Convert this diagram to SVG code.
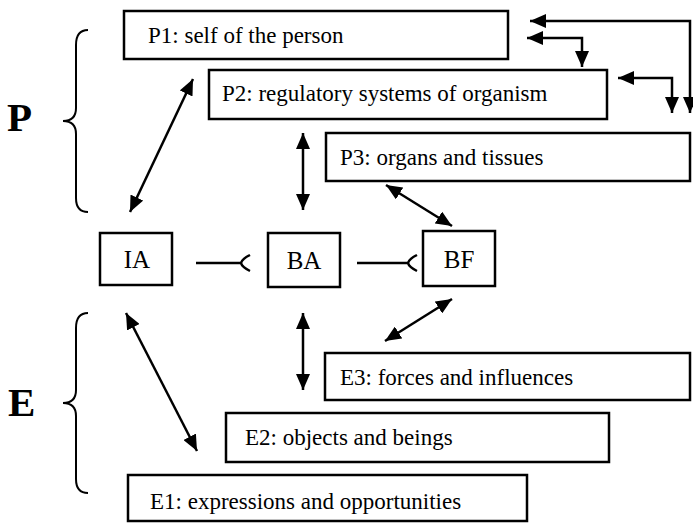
<svg xmlns="http://www.w3.org/2000/svg" width="693" height="524" viewBox="0 0 693 524">
<style>
.box{fill:#fff;stroke:#000;stroke-width:2.5}
.t{font-family:'Liberation Serif','Times New Roman',serif;font-size:23px;fill:#000}
.c{font-family:'Liberation Serif','Times New Roman',serif;font-size:25px;fill:#000;text-anchor:middle}
.big{font-family:'Liberation Serif','Times New Roman',serif;font-size:41px;font-weight:bold;fill:#000}
.ln{fill:none;stroke:#000;stroke-width:2.5}
.dbl{fill:none;stroke:#000;stroke-width:2.5;marker-start:url(#ah);marker-end:url(#ah)}
.br{fill:none;stroke:#000;stroke-width:2}
</style>
<defs>
<marker id="ah" viewBox="0 0 16 14" refX="16" refY="7" markerWidth="16" markerHeight="14" markerUnits="userSpaceOnUse" orient="auto-start-reverse">
<path d="M0,0 L16,7 L0,14 z" fill="#000"/>
</marker>
</defs>
<g id="labels">
<text class="big" x="7" y="131">P</text>
<text class="big" x="8" y="416">E</text>
<path class="br" d="M88 30 Q76 30 76 45 V108 Q76 121 63 121 Q76 121 76 134 V198 Q76 212 88 212"/>
<path class="br" d="M88 313 Q76 313 76 328 V390 Q76 403 63 403 Q76 403 76 416 V479 Q76 493 88 493"/>
</g>
<g id="P1"><rect class="box" x="124" y="11" width="384" height="48"/><text class="t" x="148" y="43">P1: self of the person</text></g>
<g id="P2"><rect class="box" x="209" y="70" width="398" height="49"/><text class="t" x="222" y="101">P2: regulatory systems of organism</text></g>
<g id="P3"><rect class="box" x="326" y="133" width="364" height="48"/><text class="t" x="340" y="165">P3: organs and tissues</text></g>
<g id="IA"><rect class="box" x="100" y="233" width="72" height="52"/><text class="c" x="137" y="268">IA</text></g>
<g id="BA"><rect class="box" x="268" y="233" width="72" height="54"/><text class="c" x="304" y="269">BA</text></g>
<g id="BF"><rect class="box" x="423" y="231" width="72" height="55"/><text class="c" x="459" y="268">BF</text></g>
<g id="E3"><rect class="box" x="325" y="353" width="365" height="47"/><text class="t" x="340" y="385">E3: forces and influences</text></g>
<g id="E2"><rect class="box" x="226" y="413" width="383" height="49"/><text class="t" x="245" y="445">E2: objects and beings</text></g>
<g id="E1"><rect class="box" x="128" y="475" width="399" height="46"/><text class="t" x="150" y="509">E1: expressions and opportunities</text></g>
<g id="connectors">
<path class="dbl" d="M130 212 L193 79"/>
<path class="dbl" d="M303 133 L303 210"/>
<path class="dbl" d="M386 185 L452 226"/>
<path class="dbl" d="M452 299 L385 341"/>
<path class="dbl" d="M303 313 L303 390"/>
<path class="dbl" d="M126 313 L197 451"/>
<path class="dbl" d="M530 21 H690 V113"/>
<path class="dbl" d="M527 38 H582 V67"/>
<path class="dbl" d="M618 78 H672 V113"/>
<path class="ln" d="M196 263 H241"/>
<path class="ln" d="M250 255 Q242 259 241 263 Q242 267 250 271"/>
<path class="ln" d="M357 263 H408"/>
<path class="ln" d="M417 255 Q409 259 408 263 Q409 267 417 271"/>
</g>
</svg>
